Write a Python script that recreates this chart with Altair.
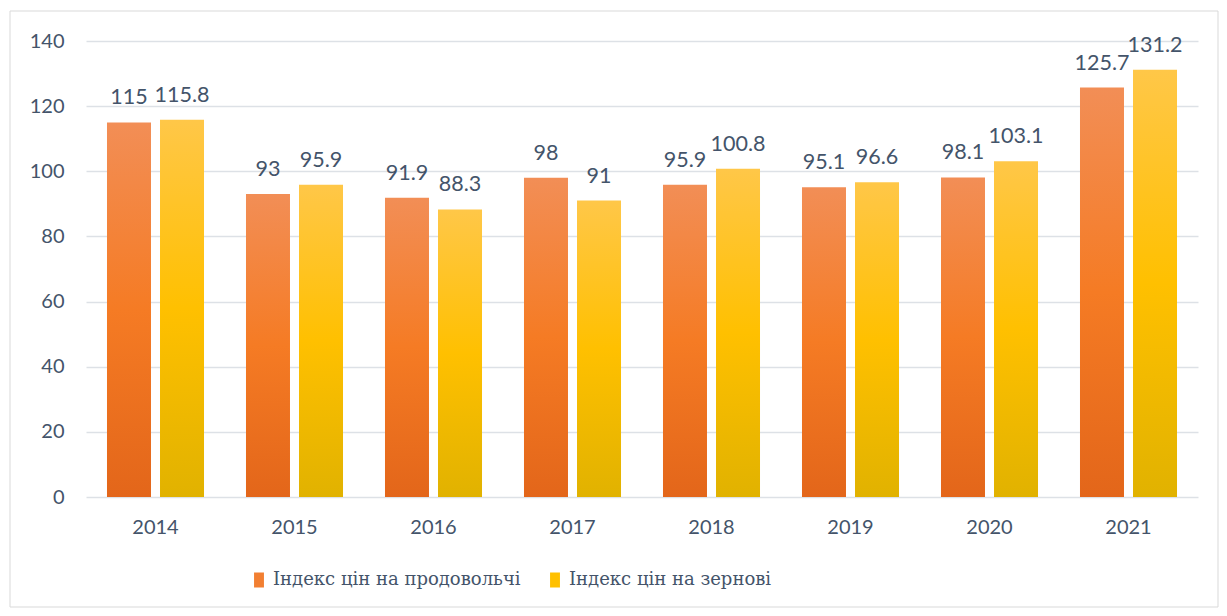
import altair as alt
import pandas as pd

years = ["2014", "2015", "2016", "2017", "2018", "2019", "2020", "2021"]
food = [115, 93, 91.9, 98, 95.9, 95.1, 98.1, 125.7]
grain = [115.8, 95.9, 88.3, 91, 100.8, 96.6, 103.1, 131.2]
series_names = ["Індекс цін на продовольчі", "Індекс цін на зернові"]
y_ticks = [0, 20, 40, 60, 80, 100, 120, 140]

rows = []
for i, yr in enumerate(years):
    rows.append({"year": yr, "series": series_names[0], "value": food[i]})
    rows.append({"year": yr, "series": series_names[1], "value": grain[i]})
df = pd.DataFrame(rows)

TXT = "#44546A"

x = alt.X(
    "year:N", sort=years,
    scale=alt.Scale(paddingInner=0.302, paddingOuter=0.151),
    axis=alt.Axis(title=None, labelAngle=0, labelPadding=20, ticks=False, domain=False),
)
xo = alt.XOffset("series:N", sort=series_names,
                 scale=alt.Scale(domain=series_names, paddingInner=0.17, paddingOuter=0))
y = alt.Y(
    "value:Q", scale=alt.Scale(domain=[0, 140], nice=False),
    axis=alt.Axis(title=None, values=y_ticks, labelPadding=22, ticks=False, domain=False,
                  gridColor="#DDE1E6", gridWidth=1.3),
)

orange_grad = alt.LinearGradient(
    gradient="linear", x1=0, x2=0, y1=0, y2=1,
    stops=[alt.GradientStop(offset=0, color="#F28E56"),
           alt.GradientStop(offset=0.5, color="#F57B24"),
           alt.GradientStop(offset=1, color="#E3661A")],
)
yellow_grad = alt.LinearGradient(
    gradient="linear", x1=0, x2=0, y1=0, y2=1,
    stops=[alt.GradientStop(offset=0, color="#FFC748"),
           alt.GradientStop(offset=0.5, color="#FFC000"),
           alt.GradientStop(offset=1, color="#E1B200")],
)

base = alt.Chart(df)

bars_food = base.transform_filter(
    alt.datum.series == series_names[0]
).mark_bar(color=orange_grad).encode(x=x, xOffset=xo, y=y)

bars_grain = base.transform_filter(
    alt.datum.series == series_names[1]
).mark_bar(color=yellow_grad).encode(x=x, xOffset=xo, y=y)

labels = base.mark_text(dy=-18, baseline="alphabetic", font="Lato", fontSize=21.5,
                        color=TXT).encode(x=x, xOffset=xo, y=y, text=alt.Text("value:Q"))

legend_layer = base.mark_square(opacity=0).encode(
    x=x, xOffset=xo, y=y,
    color=alt.Color(
        "series:N",
        scale=alt.Scale(domain=series_names, range=["#F27F32", "#FFC000"]),
        legend=alt.Legend(
            title=None, orient="none", legendX=164, legendY=530, direction="horizontal",
            labelLimit=500,
            symbolType="M-0.66,-1H0.66V1H-0.66Z", symbolSize=225,
            symbolOpacity=1, symbolStrokeWidth=0, labelOffset=5, columnPadding=25,
        ),
    ),
)

frame = alt.Chart(pd.DataFrame({"a": [0]})).mark_rect(
    filled=False, stroke="#D9D9D9", strokeWidth=1
).encode(x=alt.value(-76), x2=alt.value(1132), y=alt.value(-30), y2=alt.value(566))

chart = alt.layer(frame, bars_food, bars_grain, labels, legend_layer).properties(
    width=1112, height=456,
    autosize=alt.AutoSizeParams(type="none"),
    padding={"left": 78, "top": 33, "right": 21, "bottom": 111},
    background="white",
).configure_view(stroke=None).configure_axis(
    labelFont="Lato", labelFontSize=20, labelColor=TXT
).configure_legend(
    labelFont="DejaVu Serif", labelFontSize=18, labelColor=TXT
)

chart.save("out.html", embed_options={"renderer": "svg", "actions": False})
